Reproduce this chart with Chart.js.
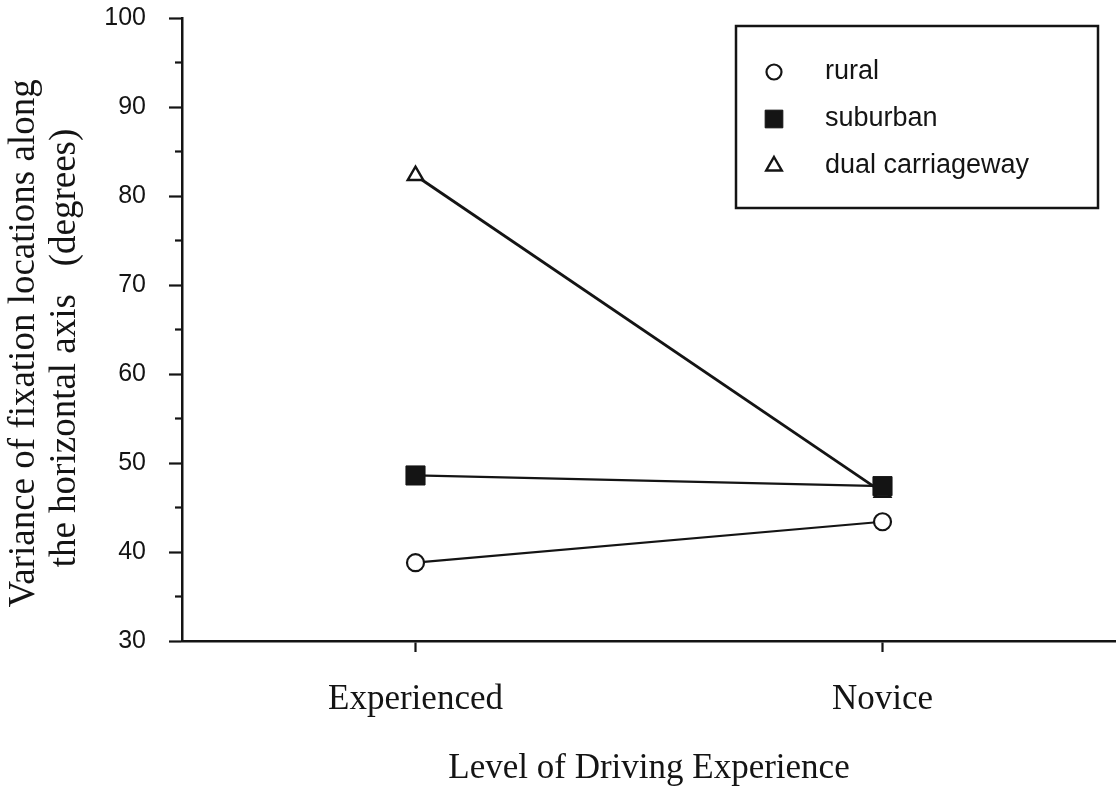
<!DOCTYPE html>
<html>
<head>
<meta charset="utf-8">
<script src="https://cdn.jsdelivr.net/npm/chart.js@4.4.1/dist/chart.umd.min.js"></script>
<style>
  html, body { margin: 0; padding: 0; background: #fff; }
  #wrap { width: 1116px; height: 786px; }
</style>
</head>
<body>
<div id="wrap"><canvas id="myChart"></canvas></div>
<script>
// datos del gráfico
const categories = ["Experienced", "Novice"];
const rural = [38.8, 43.4];
const suburban = [48.6, 47.4];
const dualCarriageway = [82.3, 46.7];
const yTicks = [30, 40, 50, 60, 70, 80, 90, 100];
const yMinorTicks = [35, 45, 55, 65, 75, 85, 95];

const ink = "#141414";
const serif = '"Liberation Serif", "Times New Roman", serif';
const sans = '"Liberation Sans", Arial, sans-serif';

// ticks menores del eje y
const minorTicksPlugin = {
  id: 'minorTicks',
  afterDraw(chart) {
    const y = chart.scales.y;
    const ctx = chart.ctx;
    ctx.save();
    ctx.strokeStyle = ink;
    ctx.lineWidth = 2.2;
    yMinorTicks.forEach(v => {
      const py = y.getPixelForValue(v);
      ctx.beginPath();
      ctx.moveTo(y.right - 7, py);
      ctx.lineTo(y.right, py);
      ctx.stroke();
    });
    ctx.restore();
  }
};

// leyenda con recuadro
const boxLegend = {
  id: 'boxLegend',
  afterDraw(chart) {
    const ctx = chart.ctx;
    ctx.save();
    ctx.strokeStyle = ink;
    ctx.lineWidth = 2.5;
    ctx.strokeRect(736, 26, 362, 182);
    ctx.font = '27px ' + sans;
    ctx.textBaseline = 'middle';
    ctx.fillStyle = ink;
    chart.data.datasets.forEach((ds, i) => {
      const cy = 72 + i * 47;
      ctx.save();
      ctx.fillStyle = ds.pointBackgroundColor;
      ctx.strokeStyle = ds.pointBorderColor;
      ctx.lineWidth = ds.pointBorderWidth;
      Chart.helpers.drawPoint(ctx, {
        pointStyle: ds.pointStyle,
        radius: ds.legendRadius,
        rotation: 0,
        borderWidth: ds.pointBorderWidth
      }, 774, cy);
      ctx.restore();
      ctx.fillText(ds.label, 825, cy);
    });
    ctx.restore();
  }
};

const config = {
  type: 'line',
  data: {
    labels: categories,
    datasets: [
      {label: "rural", data: rural, order: 0,
       borderColor: ink, borderWidth: 2.2,
       pointStyle: 'circle', pointRadius: 8.5, legendRadius: 7.5,
       pointBackgroundColor: "#fff", pointBorderColor: ink, pointBorderWidth: 2.2},
      {label: "suburban", data: suburban, order: 1,
       borderColor: ink, borderWidth: 2.2,
       pointStyle: 'rect', pointRadius: 13.5, legendRadius: 12.5,
       pointBackgroundColor: ink, pointBorderColor: ink, pointBorderWidth: 1},
      {label: "dual carriageway", data: dualCarriageway, order: 2,
       borderColor: ink, borderWidth: 2.8,
       pointStyle: 'triangle', pointRadius: 9, legendRadius: 9,
       pointBackgroundColor: "#fff", pointBorderColor: ink, pointBorderWidth: 2.4}
    ]
  },
  options: {
    responsive: true,
    maintainAspectRatio: false,
    animation: false,
    layout: { autoPadding: false, padding: { top: 18, right: 0, left: 0, bottom: 0 } },
    elements: { line: { tension: 0 } },
    plugins: {
      legend: { display: false },
      tooltip: { enabled: false }
    },
    scales: {
      x: {
        offset: true,
        grid: { display: true, drawOnChartArea: false, tickLength: 11, tickWidth: 2.2, tickColor: ink, offset: false },
        border: { color: ink, width: 2.5 },
        ticks: {
          color: ink, padding: 27,
          font: { family: serif, size: 35 }
        },
        title: {
          display: true, text: "Level of Driving Experience", color: ink,
          font: { family: serif, size: 35, lineHeight: 1.0 },
          padding: { top: 0, bottom: 0 }
        },
        afterFit(scale) { scale.height = 145; scale.paddingLeft = 0; scale.paddingRight = 0; }
      },
      y: {
        min: 30, max: 100,
        afterBuildTicks(scale) { scale.ticks = yTicks.map(v => ({ value: v })); },
        grid: { display: true, drawOnChartArea: false, tickLength: 13, tickWidth: 2.2, tickColor: ink },
        border: { color: ink, width: 2.5 },
        ticks: {
          color: ink, padding: 23,
          font: { family: sans, size: 25 }
        },
        title: {
          display: true,
          text: ["Variance of fixation locations along   ", "the horizontal axis   (degrees)    "],
          color: ink,
          font: { family: serif, size: 37, lineHeight: 1.1 },
          padding: { top: 4, bottom: 0 }
        },
        afterFit(scale) { scale.width = 182; scale.paddingTop = 0; scale.paddingBottom = 0; }
      }
    }
  },
  plugins: [minorTicksPlugin, boxLegend]
};

const ctx = document.getElementById('myChart');
const myChart = new Chart(ctx, config);
</script>
</body>
</html>
